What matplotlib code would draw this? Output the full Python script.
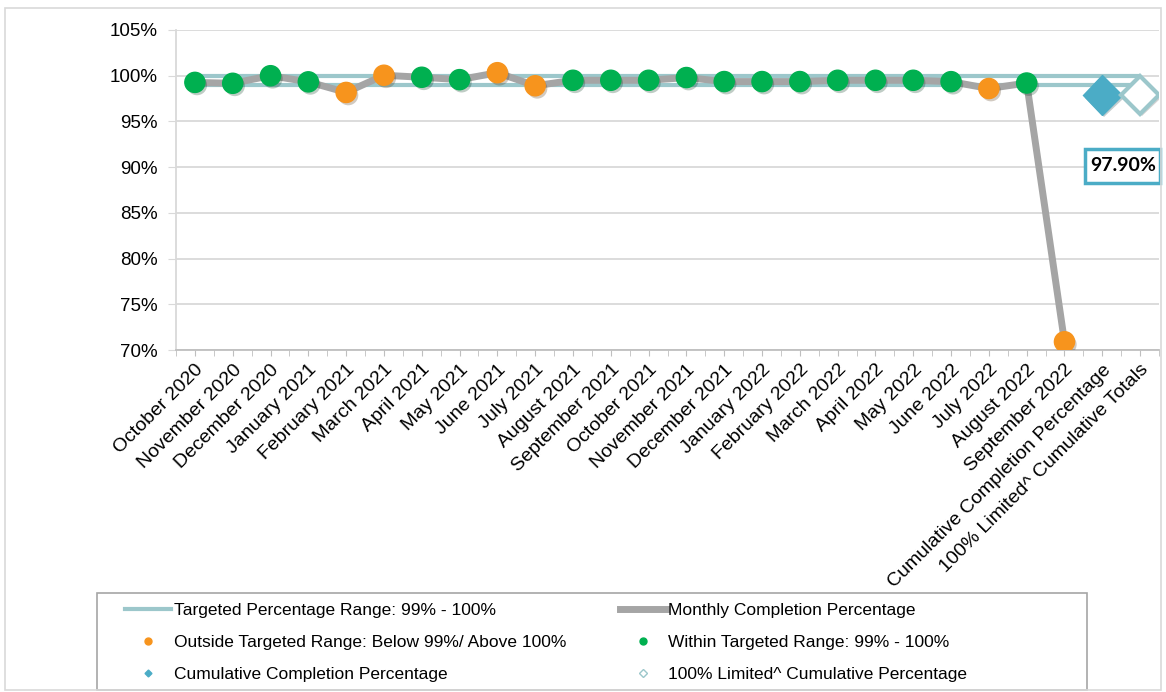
import numpy as np
import matplotlib
matplotlib.use("Agg")
import matplotlib.pyplot as plt
from matplotlib.lines import Line2D
from matplotlib.patches import Rectangle
import matplotlib.patheffects as pe

plt.rcParams['font.family'] = ['Liberation Sans', 'DejaVu Sans']

# data
months = ["October 2020", "November 2020", "December 2020", "January 2021",
          "February 2021", "March 2021", "April 2021", "May 2021", "June 2021",
          "July 2021", "August 2021", "September 2021", "October 2021",
          "November 2021", "December 2021", "January 2022", "February 2022",
          "March 2022", "April 2022", "May 2022", "June 2022", "July 2022",
          "August 2022", "September 2022"]
extra_cats = ["Cumulative Completion Percentage", "100% Limited^ Cumulative Totals"]
monthly = [99.27, 99.17, 100.0, 99.33, 98.17, 100.05, 99.83, 99.57, 100.33, 98.9,
           99.5, 99.5, 99.5, 99.8, 99.36, 99.36, 99.36, 99.5, 99.5, 99.5,
           99.35, 98.6, 99.2, 70.9]
cumulative = 97.9
limited_cumulative = 97.9
target_low = 99
target_high = 100

cats = months + extra_cats
n = len(cats)
x = np.arange(n)
xm = np.arange(len(months))
vals = np.array(monthly)

teal = "#9CC7CB"
gray = "#A5A5A5"
green = "#00B050"
orange = "#F7941D"
blue = "#4BACC6"

W, H = 1166, 692
fig = plt.figure(figsize=(W / 100, H / 100), dpi=100)
ax = fig.add_axes([176/W, 1-350/H, (1159-176)/W, (350-30)/H])

# target range lines
ax.plot([x[0], x[-1]], [target_high, target_high], color=teal, lw=3, zorder=2, solid_capstyle='butt')
ax.plot([x[0], x[-1]], [target_low, target_low], color=teal, lw=3, zorder=2, solid_capstyle='butt')

# monthly line
ax.plot(xm, vals, color=gray, lw=5, zorder=3)

shadow = [pe.SimplePatchShadow(offset=(1.5, -2), alpha=0.25), pe.Normal()]
inside = (vals >= target_low) & (vals <= target_high)
ax.plot(xm[inside], vals[inside], 'o', color=green, ms=14.5, mec=green, zorder=4,
        path_effects=shadow)
ax.plot(xm[~inside], vals[~inside], 'o', color=orange, ms=14.5, mec=orange, zorder=4,
        path_effects=shadow)

ax.plot([x[-2]], [cumulative], 'D', color=blue, ms=20, mec=blue, zorder=4,
        path_effects=shadow)
ax.plot([x[-1]], [limited_cumulative], 'D', mfc='white', mec=teal, mew=3, ms=19, zorder=4,
        path_effects=shadow)

# value label box
ax.add_patch(Rectangle((x[-1] - 1.45, 88.3), 1.98, 3.7, fc='white', ec=blue, lw=2.5,
                       zorder=5, clip_on=False))
ax.text(x[-1] - 0.46, 90.15, "%.2f%%" % limited_cumulative, ha='center', va='center',
        fontsize=14, fontweight='bold', family=['Lato', 'DejaVu Sans'], zorder=6)

ax.set_xlim(-0.5, n - 0.5)
ax.set_ylim(70, 105)
ax.set_yticks(np.arange(70, 106, 5))
ax.set_yticklabels(["%d%%" % v for v in range(70, 106, 5)], fontsize=13.5)
ax.set_xticks(x)
ax.set_xticklabels(cats, rotation=45, ha='right', rotation_mode='anchor', fontsize=14)
ax.set_xticks(np.arange(-0.5, n, 1), minor=True)
ax.tick_params(axis='x', which='both', length=4, color='#BFBFBF', pad=4)
ax.tick_params(axis='y', length=6, color='#D9D9D9', pad=7)
ax.yaxis.grid(True, color='#D9D9D9', lw=1.3)
ax.set_axisbelow(True)
for s in ['top', 'right']:
    ax.spines[s].set_visible(False)
ax.spines['left'].set_color('#D9D9D9')
ax.spines['left'].set_linewidth(1.3)
ax.spines['bottom'].set_color('#BFBFBF')
ax.spines['bottom'].set_linewidth(1.3)

# legend
handles = [
    Line2D([], [], color=teal, lw=3),
    Line2D([], [], ls='none', marker='o', color=orange, ms=5),
    Line2D([], [], ls='none', marker='D', color=blue, ms=3.5),
    Line2D([], [], color=gray, lw=5),
    Line2D([], [], ls='none', marker='o', color=green, ms=5),
    Line2D([], [], ls='none', marker='D', mfc='white', mec=teal, ms=4, mew=1),
]
labels = ["Targeted Percentage Range: 99% - 100%",
          "Outside Targeted Range: Below 99%/ Above 100%",
          "Cumulative Completion Percentage",
          "Monthly Completion Percentage",
          "Within Targeted Range: 99% - 100%",
          "100% Limited^ Cumulative Percentage"]
leg = fig.legend(handles, labels, ncol=2, loc='upper left',
                 bbox_to_anchor=(125/W, 1-603/H), fontsize=12.5, frameon=False,
                 handlelength=2.65, handletextpad=0.15, labelspacing=0.98,
                 borderpad=0, borderaxespad=0, columnspacing=3.1)

fig.patches.append(Rectangle((97/W, 1-690/H), (1087-97)/W, (690-593)/H,
                             transform=fig.transFigure, fill=False, ec='#A6A6A6', lw=1.2))
fig.patches.append(Rectangle((5/W, 2/H), 1156/W, 682/H, transform=fig.transFigure,
                             fill=False, ec='#D9D9D9', lw=1.2))

fig.savefig("out.png", dpi=100)
